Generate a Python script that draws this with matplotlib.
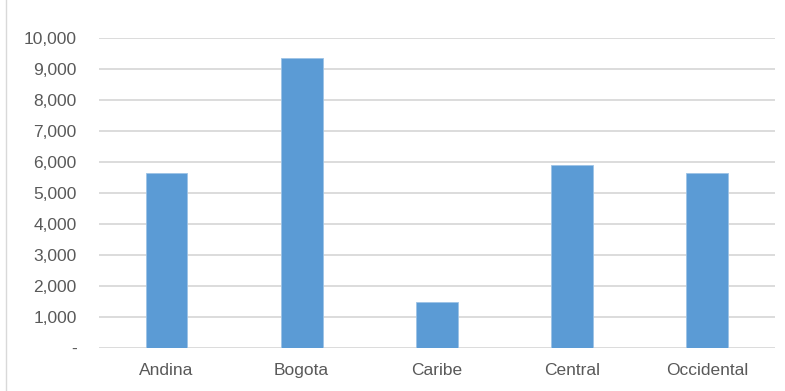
import matplotlib
matplotlib.use("Agg")
import matplotlib.pyplot as plt
from matplotlib import font_manager
from matplotlib.ticker import FuncFormatter, MultipleLocator
from matplotlib.lines import Line2D

# Data
regions = ['Andina', 'Bogota', 'Caribe', 'Central', 'Occidental']
values = [5630, 9350, 1470, 5890, 5630]

bar_color = '#5B9BD5'
grid_color = '#D9D9D9'
text_color = '#595959'

# Use a narrow font if we have one, the labels in the chart look condensed
names = set(f.name for f in font_manager.fontManager.ttflist)
if 'Liberation Sans Narrow' in names:
    font_family = ['Liberation Sans Narrow', 'DejaVu Sans']
    font_size = 14
else:
    font_family = ['Liberation Sans', 'DejaVu Sans']
    font_size = 12.5
plt.rcParams['font.family'] = font_family


def y_format(v, pos):
    # Excel accounting style: zero shown as a dash
    if v == 0:
        return '-'
    return '{:,.0f}'.format(v)


fig = plt.figure(figsize=(7.85, 3.91), dpi=100)
ax = fig.add_axes([0.126, 0.111, 0.861, 0.7928])

x = range(len(regions))
ax.bar(x, values, width=0.31, color=bar_color, edgecolor='#9DC3E6', linewidth=0.6, zorder=3)

ax.set_xlim(-0.5, len(regions) - 0.5)
ax.set_ylim(0, 10000)
ax.yaxis.set_major_locator(MultipleLocator(1000))
ax.yaxis.set_major_formatter(FuncFormatter(y_format))
ax.set_xticks(list(x))
ax.set_xticklabels(regions)

ax.grid(axis='y', color=grid_color, linewidth=1.3, zorder=0)
ax.set_axisbelow(True)
for side in ['top', 'right', 'left', 'bottom']:
    ax.spines[side].set_visible(False)

ax.tick_params(axis='y', length=0, pad=16, labelsize=font_size, labelcolor=text_color)
ax.tick_params(axis='x', length=0, pad=11, labelsize=font_size, labelcolor=text_color)

# light border line on the left of the chart area
fig.add_artist(Line2D([6 / 785, 6 / 785], [0, 1], transform=fig.transFigure,
                      color=grid_color, linewidth=1.0))

fig.savefig('out.png', dpi=100)
